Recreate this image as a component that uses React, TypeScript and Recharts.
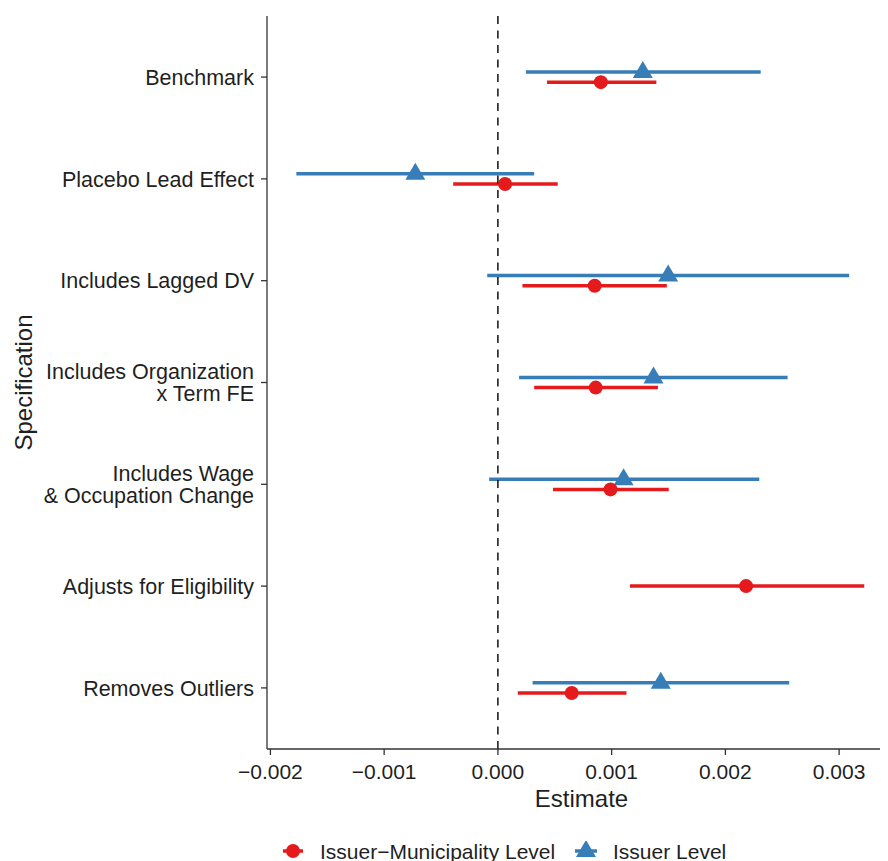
import React from "react";
import {
  ScatterChart,
  Scatter,
  XAxis,
  YAxis,
  ErrorBar,
  ReferenceLine,
  Legend,
} from "recharts";

// ---------- data ----------
const categories: string[] = [
  "Benchmark",
  "Placebo Lead Effect",
  "Includes Lagged DV",
  "Includes Organization\nx Term FE",
  "Includes Wage\n& Occupation Change",
  "Adjusts for Eligibility",
  "Removes Outliers",
];

const muniEstimate: (number | null)[] = [0.000905, 0.000063, 0.000851, 0.00086, 0.00099, 0.002182, 0.000649];
const muniLower: (number | null)[] = [0.000432, -0.000393, 0.000216, 0.000319, 0.000484, 0.001161, 0.000175];
const muniUpper: (number | null)[] = [0.001393, 0.000526, 0.001485, 0.001407, 0.001502, 0.003221, 0.00113];

const issuerEstimate: (number | null)[] = [0.001274, -0.000726, 0.001497, 0.001368, 0.001105, null, 0.001432];
const issuerLower: (number | null)[] = [0.000246, -0.001772, -0.000094, 0.000186, -0.000077, null, 0.000305];
const issuerUpper: (number | null)[] = [0.00231, 0.000319, 0.003088, 0.002547, 0.002298, null, 0.002561];

const xTicks: number[] = [-0.002, -0.001, 0, 0.001, 0.002, 0.003];
const seriesNames = ["Issuer\u2212Municipality Level", "Issuer Level"];

// ---------- styling ----------
const RED = "#E41A1C";
const BLUE = "#377EB8";
const FONT = "'Liberation Sans', Arial, Helvetica, sans-serif";
const TEXT = "#1f1f1f";
const AXIS = "#333333";
const DODGE = 0.05;

type Pt = { x: number; y: number; err: [number, number] };

function buildSeries(
  est: (number | null)[],
  lo: (number | null)[],
  hi: (number | null)[],
  other: (number | null)[],
  side: number
): Pt[] {
  const out: Pt[] = [];
  est.forEach((e, i) => {
    if (e == null || lo[i] == null || hi[i] == null) return;
    const both = other[i] != null;
    out.push({
      x: e,
      y: i + 1 + (both ? side * DODGE : 0),
      err: [e - (lo[i] as number), (hi[i] as number) - e],
    });
  });
  return out;
}

const muniData = buildSeries(muniEstimate, muniLower, muniUpper, issuerEstimate, 1);
const issuerData = buildSeries(issuerEstimate, issuerLower, issuerUpper, muniEstimate, -1);

const fmtX = (v: number) => {
  const s = v.toFixed(3);
  return s.startsWith("-") ? "\u2212" + s.slice(1) : s;
};

const CircleShape = (props: any) => {
  const { cx, cy } = props;
  if (cx == null || cy == null) return null;
  return <circle cx={cx} cy={cy} r={7} fill={RED} />;
};

const TriangleShape = (props: any) => {
  const { cx, cy } = props;
  if (cx == null || cy == null) return null;
  const d = `M${cx},${cy - 11} L${cx + 10},${cy + 6} L${cx - 10},${cy + 6} Z`;
  return <path d={d} fill={BLUE} />;
};

const YTick = (props: any) => {
  const { x, y, payload } = props;
  const idx = Math.round(payload.value) - 1;
  const label = categories[idx];
  if (!label) return null;
  const lines = label.split("\n");
  const lh = 22;
  const start = -((lines.length - 1) * lh) / 2;
  return (
    <text
      x={x}
      y={y}
      textAnchor="end"
      fontFamily={FONT}
      fontSize={21.5}
      fill={TEXT}
    >
      {lines.map((ln, i) => (
        <tspan key={i} x={x} y={y + start + i * lh} dy="0.36em">
          {ln}
        </tspan>
      ))}
    </text>
  );
};

const YTitle = (props: any) => {
  const vb = props.viewBox || { x: 0, y: 0, height: 0 };
  const cx = 15;
  const cy = vb.y + vb.height / 2;
  return (
    <text
      x={0}
      y={0}
      transform={`translate(${cx},${cy}) rotate(-90)`}
      textAnchor="middle"
      dominantBaseline="central"
      fontFamily={FONT}
      fontSize={24}
      fill={TEXT}
    >
      Specification
    </text>
  );
};

const XTitle = (props: any) => {
  const vb = props.viewBox || { x: 0, y: 0, width: 0 };
  const cx = vb.x + vb.width / 2;
  return (
    <text
      x={cx}
      y={790}
      textAnchor="middle"
      dominantBaseline="central"
      fontFamily={FONT}
      fontSize={24}
      fill={TEXT}
    >
      Estimate
    </text>
  );
};

const LegendContent = () => (
  <svg width={880} height={20} style={{ display: "block" }}>
    <line x1={275} x2={295} y1={10} y2={10} stroke={RED} strokeWidth={3.5} />
    <circle cx={285} cy={10} r={7} fill={RED} />
    <text x={312} y={10} dy="0.36em" fontFamily={FONT} fontSize={21} fill={TEXT}>
      {seriesNames[0]}
    </text>
    <line x1={567} x2={589} y1={10} y2={10} stroke={BLUE} strokeWidth={3.5} />
    <path d="M578,-1 L588,16 L568,16 Z" fill={BLUE} />
    <text x={605} y={10} dy="0.36em" fontFamily={FONT} fontSize={21} fill={TEXT}>
      {seriesNames[1]}
    </text>
  </svg>
);

export default function App() {
  return (
    <div style={{ width: 880, height: 853, overflow: "hidden", fontFamily: FONT }}>
      <ScatterChart
        width={888}
        height={853}
        margin={{ top: 8, right: 0, bottom: 0, left: 0 }}
      >
        <XAxis
          type="number"
          dataKey="x"
          domain={[-0.00203, 0.0035]}
          ticks={xTicks}
          tickFormatter={fmtX}
          allowDataOverflow
          height={92}
          tickSize={6}
          tickMargin={9}
          axisLine={{ stroke: AXIS, strokeWidth: 1.3 }}
          tickLine={{ stroke: AXIS, strokeWidth: 1.3 }}
          tick={{ fontSize: 21, fill: TEXT, fontFamily: FONT }}
          label={<XTitle />}
        />
        <YAxis
          type="number"
          dataKey="y"
          domain={[0.4, 7.6]}
          reversed
          ticks={[1, 2, 3, 4, 5, 6, 7]}
          allowDataOverflow
          width={259}
          tickSize={6}
          tickMargin={7}
          axisLine={{ stroke: AXIS, strokeWidth: 1.3 }}
          tickLine={{ stroke: AXIS, strokeWidth: 1.3 }}
          tick={<YTick />}
          label={<YTitle />}
        />
        <Legend
          verticalAlign="bottom"
          align="left"
          height={20}
          content={<LegendContent />}
          wrapperStyle={{ left: 0, width: 880 }}
        />
        <Scatter
          name={seriesNames[1]}
          data={issuerData}
          shape={<TriangleShape />}
          fill={BLUE}
          isAnimationActive={false}
        >
          <ErrorBar dataKey="err" direction="x" width={0} stroke={BLUE} strokeWidth={3.5} />
        </Scatter>
        <Scatter
          name={seriesNames[0]}
          data={muniData}
          shape={<CircleShape />}
          fill={RED}
          isAnimationActive={false}
        >
          <ErrorBar dataKey="err" direction="x" width={0} stroke={RED} strokeWidth={3.5} />
        </Scatter>
        <ReferenceLine x={0} stroke="#000" strokeWidth={1.4} strokeDasharray="8 6.5" />
      </ScatterChart>
    </div>
  );
}
